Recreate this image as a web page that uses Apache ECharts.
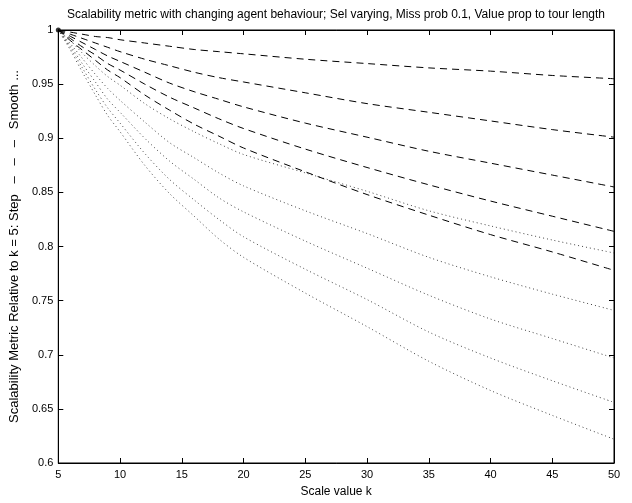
<!DOCTYPE html>
<html>
<head>
<meta charset="utf-8">
<script src="https://cdn.jsdelivr.net/npm/echarts@6/dist/echarts.min.js"></script>
<style>
  html, body { margin: 0; padding: 0; background: #fff; }
  #chart { width: 632px; height: 503px; }
</style>
</head>
<body>
<div id="chart"></div>
<script>
// scale values k
var kVals = [5, 6, 7, 8, 9, 10, 12, 14, 16, 18, 20, 25, 30, 35, 40, 45, 50]

// Step curves (dashed)
var step1 = [1, 0.998, 0.996, 0.994, 0.993, 0.991, 0.988, 0.985, 0.982, 0.980, 0.978, 0.973, 0.969, 0.965, 0.962, 0.958, 0.955]
var step2 = [1, 0.996, 0.992, 0.988, 0.984, 0.980, 0.973, 0.967, 0.961, 0.956, 0.952, 0.942, 0.932, 0.924, 0.916, 0.908, 0.901]
var step3 = [1, 0.994, 0.988, 0.982, 0.976, 0.971, 0.961, 0.951, 0.943, 0.936, 0.929, 0.914, 0.901, 0.888, 0.877, 0.866, 0.855]
var step4 = [1, 0.992, 0.984, 0.977, 0.969, 0.963, 0.950, 0.938, 0.928, 0.918, 0.909, 0.890, 0.873, 0.857, 0.842, 0.828, 0.814]
var step5 = [1, 0.990, 0.981, 0.972, 0.963, 0.956, 0.940, 0.926, 0.913, 0.902, 0.891, 0.869, 0.848, 0.829, 0.811, 0.795, 0.778]

// Smooth curves (dotted)
var smooth1 = [1, 0.990, 0.978, 0.967, 0.957, 0.949, 0.932, 0.918, 0.906, 0.895, 0.885, 0.868, 0.851, 0.833, 0.819, 0.806, 0.794]
var smooth2 = [1, 0.987, 0.973, 0.959, 0.946, 0.935, 0.915, 0.896, 0.882, 0.868, 0.856, 0.833, 0.812, 0.790, 0.772, 0.756, 0.741]
var smooth3 = [1, 0.985, 0.968, 0.952, 0.936, 0.924, 0.900, 0.879, 0.862, 0.845, 0.832, 0.805, 0.780, 0.755, 0.733, 0.715, 0.697]
var smooth4 = [1, 0.983, 0.964, 0.945, 0.928, 0.914, 0.886, 0.862, 0.843, 0.825, 0.809, 0.779, 0.751, 0.721, 0.697, 0.676, 0.656]
var smooth5 = [1, 0.981, 0.960, 0.940, 0.921, 0.906, 0.875, 0.849, 0.828, 0.807, 0.790, 0.757, 0.726, 0.694, 0.667, 0.644, 0.622]

var stepList = [step1, step2, step3, step4, step5]
var smoothList = [smooth1, smooth2, smooth3, smooth4, smooth5]

var fontName = 'Liberation Sans, Arial, sans-serif'

function pairs(vals) {
  return kVals.map(function (k, i) { return [k, vals[i]] })
}

var series = []
stepList.forEach(function (vals, i) {
  series.push({
    name: 'Step ' + (i + 1),
    type: 'line',
    data: pairs(vals),
    showSymbol: false,
    smooth: 0.3,
    lineStyle: { color: '#000', width: 1, type: [7, 5] },
    z: 3
  })
})
smoothList.forEach(function (vals, i) {
  series.push({
    name: 'Smooth ' + (i + 1),
    type: 'line',
    data: pairs(vals),
    showSymbol: false,
    smooth: 0.3,
    lineStyle: { color: '#444', width: 1, type: [1, 3] },
    z: 2
  })
})
// start point marker
series.push({
  type: 'scatter',
  data: [[kVals[0], step1[0]]],
  symbol: 'circle',
  symbolSize: 5,
  itemStyle: { color: '#000' },
  z: 4
})

var myChart = echarts.init(document.getElementById('chart'))
var option = {
  backgroundColor: '#fff',
  animation: false,
  title: {
    text: 'Scalability metric with changing agent behaviour; Sel varying, Miss prob 0.1, Value prop to tour length',
    left: 331,
    textAlign: 'center',
    top: 4,
    textStyle: { fontFamily: fontName, fontSize: 12, fontWeight: 'normal', color: '#000' }
  },
  grid: {
    left: 57,
    right: 18,
    top: 30,
    bottom: 40,
    show: true,
    borderColor: '#000',
    borderWidth: 1
  },
  xAxis: [
    {
      type: 'value',
      min: 5,
      max: 50,
      interval: 5,
      name: 'Scale value k',
      nameLocation: 'middle',
      nameGap: 23,
      nameTextStyle: { fontFamily: fontName, fontSize: 12, color: '#000' },
      axisLine: { show: true, lineStyle: { color: '#000' } },
      axisTick: { inside: true, length: 5, lineStyle: { color: '#000' } },
      axisLabel: { fontFamily: fontName, fontSize: 11, color: '#000', margin: 6 },
      splitLine: { show: false }
    },
    {
      type: 'value',
      position: 'top',
      min: 5,
      max: 50,
      interval: 5,
      axisLine: { show: true, lineStyle: { color: '#000' } },
      axisTick: { inside: true, length: 5, lineStyle: { color: '#000' } },
      axisLabel: { show: false },
      splitLine: { show: false }
    }
  ],
  yAxis: [
    {
      type: 'value',
      min: 0.6,
      max: 1,
      interval: 0.05,
      name: 'Scalability Metric Relative to k = 5: Step   –   –   –   Smooth ...',
      nameLocation: 'middle',
      nameGap: 37,
      nameTextStyle: { fontFamily: fontName, fontSize: 13, color: '#000' },
      axisLine: { show: true, lineStyle: { color: '#000' } },
      axisTick: { inside: true, length: 5, lineStyle: { color: '#000' } },
      axisLabel: { fontFamily: fontName, fontSize: 11, color: '#000', margin: 5 },
      splitLine: { show: false }
    },
    {
      type: 'value',
      position: 'right',
      min: 0.6,
      max: 1,
      interval: 0.05,
      axisLine: { show: true, lineStyle: { color: '#000' } },
      axisTick: { inside: true, length: 5, lineStyle: { color: '#000' } },
      axisLabel: { show: false },
      splitLine: { show: false }
    }
  ],
  series: series
}
myChart.setOption(option)
</script>
</body>
</html>
